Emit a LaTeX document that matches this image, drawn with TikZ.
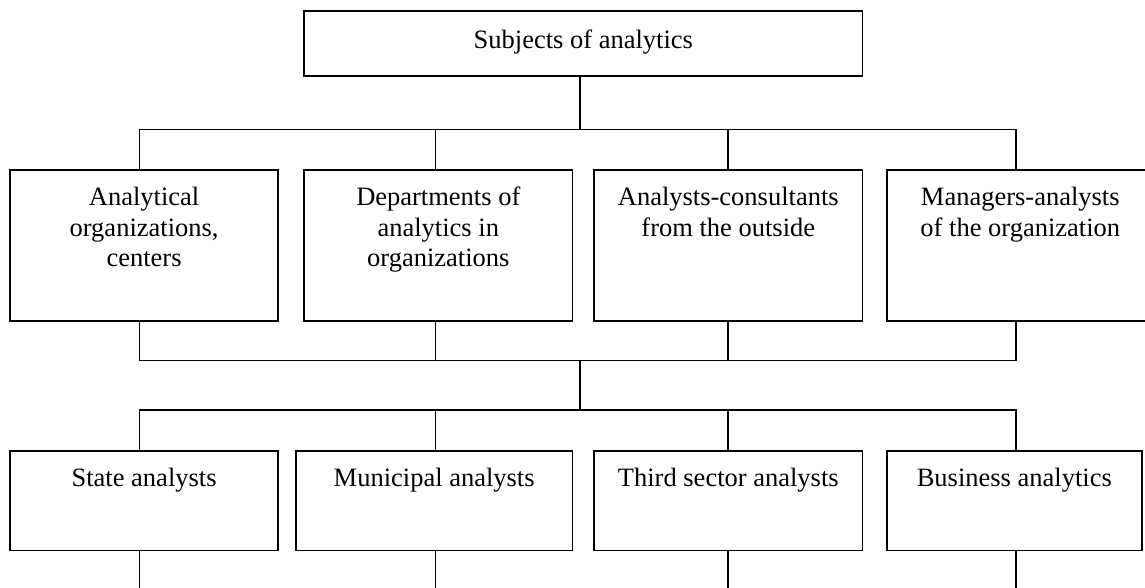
\documentclass[tikz,border=0pt]{standalone}
\usepackage{fontspec}
\setmainfont{Liberation Serif}
\usetikzlibrary{calc}
\begin{document}
\begin{tikzpicture}[x=1pt,y=-1pt,
  box/.style={draw, line width=1.6pt, rectangle, inner sep=0pt, anchor=north west},
  lbl/.style={anchor=north, inner sep=0pt, align=center, font=\fontsize{26.5}{30.7}\selectfont},
  conn/.style={line width=1.6pt}]
\useasboundingbox[fill=white] (0,0) rectangle (1145,587);
% boxes
\node[box, minimum width=558.4pt, minimum height=65.3pt] (top) at (303.3,10) {};
\node[box, minimum width=268pt, minimum height=150.7pt] (b1) at (9.3,169.3) {};
\node[box, minimum width=268.4pt, minimum height=150.7pt] (b2) at (303.3,169.3) {};
\node[box, minimum width=268.4pt, minimum height=150.7pt] (b3) at (593.3,169.3) {};
\node[box, minimum width=267pt, minimum height=150.7pt] (b4) at (886,169.3) {};
\node[box, minimum width=268pt, minimum height=99.5pt] (c1) at (9.3,450.3) {};
\node[box, minimum width=276.7pt, minimum height=99.5pt] (c2) at (295,450.3) {};
\node[box, minimum width=268.4pt, minimum height=99.5pt] (c3) at (593.3,450.3) {};
\node[box, minimum width=255pt, minimum height=99.5pt] (c4) at (886,450.3) {};
% labels
\node[lbl] (t0) at ($(top.north)+(0,16.5)$) {\strut Subjects of analytics};
\node[lbl] (t1) at ($(b1.north)+(0,14.5)$) {\strut Analytical\\organizations,\\centers};
\node[lbl] (t2) at ($(b2.north)+(0,14.5)$) {\strut Departments of\\analytics in\\organizations};
\node[lbl] (t3) at ($(b3.north)+(0,14.5)$) {\strut Analysts-consultants\\from the outside};
\node[lbl] (t4) at ($(b4.north)+(0,14.5)$) {\strut Managers-analysts\\of the organization};
\node[lbl] (s1) at ($(c1.north)+(0,14.5)$) {\strut State analysts};
\node[lbl] (s2) at ($(c2.north)+(0,14.5)$) {\strut Municipal analysts};
\node[lbl] (s3) at ($(c3.north)+(0,14.5)$) {\strut Third sector analysts};
\node[lbl] (s4) at ($(c4.north)+(0,14.5)$) {\strut Business analytics};
% guide coordinates
\coordinate (xa) at (139.3,0);
\coordinate (xb) at (435.5,0);
\coordinate (xc) at (727.9,0);
\coordinate (xd) at (1015.7,0);
\coordinate (xm) at (580,0);
\coordinate (ya) at (0,129.3);
\coordinate (yb) at (0,360.3);
\coordinate (yc) at (0,409.8);
\coordinate (yend) at (0,590);
% connectors
\draw[conn] (top.south -| xm) -- (xm |- ya);
\draw[conn] (xa |- b1.north) -- (xa |- ya) -- (xd |- ya) -- (xd |- b4.north);
\draw[conn] (xb |- ya) -- (xb |- b2.north);
\draw[conn] (xc |- ya) -- (xc |- b3.north);
\draw[conn] (xa |- b1.south) -- (xa |- yb) -- (xd |- yb) -- (xd |- b4.south);
\draw[conn] (xb |- b2.south) -- (xb |- yb);
\draw[conn] (xc |- b3.south) -- (xc |- yb);
\draw[conn] (xm |- yb) -- (xm |- yc);
\draw[conn] (xa |- c1.north) -- (xa |- yc) -- (xd |- yc) -- (xd |- c4.north);
\draw[conn] (xb |- yc) -- (xb |- c2.north);
\draw[conn] (xc |- yc) -- (xc |- c3.north);
\draw[conn] (xa |- c1.south) -- (xa |- yend);
\draw[conn] (xb |- c2.south) -- (xb |- yend);
\draw[conn] (xc |- c3.south) -- (xc |- yend);
\draw[conn] (xd |- c4.south) -- (xd |- yend);
\end{tikzpicture}
\end{document}
